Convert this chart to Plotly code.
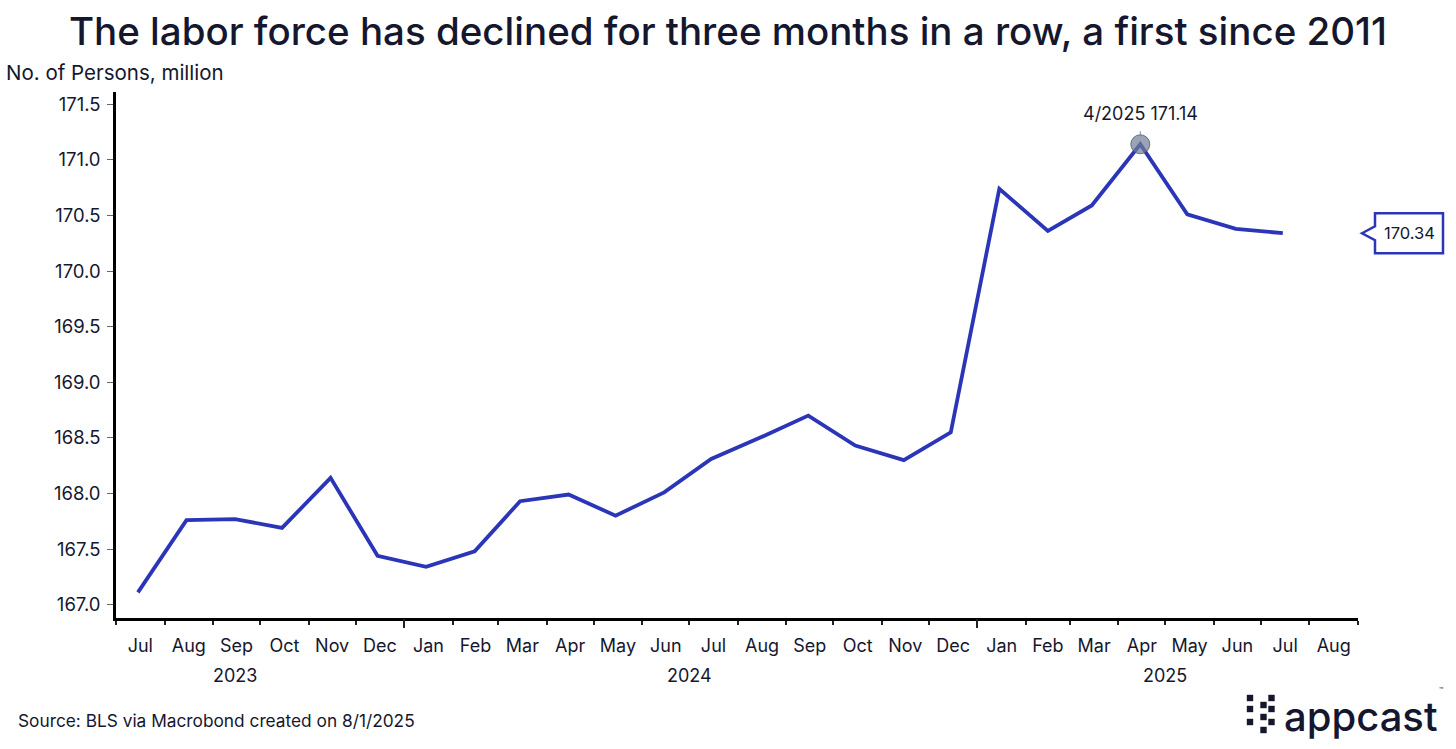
import plotly.graph_objects as go

# ---------------- data ----------------
months = ["2023-07-15", "2023-08-15", "2023-09-15", "2023-10-15", "2023-11-15", "2023-12-15",
          "2024-01-15", "2024-02-15", "2024-03-15", "2024-04-15", "2024-05-15", "2024-06-15",
          "2024-07-15", "2024-08-15", "2024-09-15", "2024-10-15", "2024-11-15", "2024-12-15",
          "2025-01-15", "2025-02-15", "2025-03-15", "2025-04-15", "2025-05-15", "2025-06-15",
          "2025-07-15"]
labor_force = [167.11, 167.76, 167.77, 167.69, 168.14, 167.44,
               167.34, 167.48, 167.93, 167.99, 167.80, 168.01,
               168.31, 168.50, 168.70, 168.43, 168.30, 168.55,
               170.74, 170.36, 170.59, 171.14, 170.51, 170.38,
               170.34]
y_ticks = [167.0, 167.5, 168.0, 168.5, 169.0, 169.5, 170.0, 170.5, 171.0, 171.5]
year_labels = ["2023", "2024", "2025"]
year_label_pos = ["2023-09-15", "2024-07-01", "2025-05-01"]
year_bounds = ["2024-01-01", "2025-01-01"]

TITLE = "The labor force has declined for three months in a row, a first since 2011"
SOURCE = "Source: BLS via Macrobond created on 8/1/2025"

# ---------------- style ----------------
FONT = "Inter"
INK = "#15172e"
BLUE = "#2b35b8"
W, H = 1456, 749
L, R, T, B = 116, 1358, 92, 618


def px(x):
    return (x - L) / (R - L)


def py(y):
    return (B - y) / (B - T)


fig = go.Figure()
fig.add_trace(go.Scatter(x=months, y=labor_force, mode="lines",
                         line=dict(color=BLUE, width=3.8), hoverinfo="skip",
                         showlegend=False, cliponaxis=False))

# peak marker
imax = max(range(len(labor_force)), key=lambda i: labor_force[i])
fig.add_trace(go.Scatter(x=[months[imax]], y=[labor_force[imax]], mode="markers",
                         marker=dict(size=19, color="rgba(112,126,150,0.7)",
                                     line=dict(color="rgba(80,90,110,0.8)", width=1)),
                         showlegend=False, hoverinfo="skip", cliponaxis=False))

# invisible trace for the overlay axis with year-boundary ticks
fig.add_trace(go.Scatter(x=year_bounds, y=[labor_force[0]] * len(year_bounds), mode="markers",
                         marker=dict(opacity=0), xaxis="x2", showlegend=False, hoverinfo="skip"))

xrange = ["2023-07-01", "2025-09-01"]
yrange = [166.88, 171.61]

fig.update_layout(
    width=W, height=H,
    margin=dict(l=L, r=W - R, t=T, b=H - B),
    paper_bgcolor="white", plot_bgcolor="white",
    font=dict(family=FONT, color=INK, size=18),
    title=dict(text=TITLE, x=0.5, xanchor="center", xref="container",
               y=1 - 32 / H, yanchor="middle", yref="container",
               font=dict(family=FONT, size=38.5, color=INK, weight=500)),
    xaxis=dict(type="date", range=xrange, dtick="M1", tick0="2023-07-01",
               tickformat="%b", ticklabelmode="period",
               ticks="outside", ticklen=4, tickwidth=1.5, tickcolor="#222",
               showline=True, linewidth=2.5, linecolor="black",
               showgrid=False, zeroline=False, ticklabelstandoff=6,
               tickfont=dict(family=FONT, size=18, color=INK)),
    xaxis2=dict(type="date", range=xrange, overlaying="x", side="bottom",
                tickvals=year_bounds, showticklabels=False,
                ticks="outside", ticklen=9, tickwidth=1.5, tickcolor="#222",
                showline=False, showgrid=False, zeroline=False),
    yaxis=dict(range=yrange, tickvals=y_ticks, tickformat=".1f",
               ticks="outside", ticklen=6, tickwidth=1, tickcolor="#666",
               showline=True, linewidth=2.5, linecolor="black",
               showgrid=False, zeroline=False, ticklabelstandoff=3,
               tickfont=dict(family=FONT, size=18.5, color=INK)),
)

ann = []
# y-axis title
ann.append(dict(text="No. of Persons, million", xref="paper", yref="paper",
                x=px(4), y=py(73), xanchor="left", yanchor="middle", showarrow=False,
                font=dict(family=FONT, size=20.5, color=INK)))
# year labels
for lab, pos in zip(year_labels, year_label_pos):
    ann.append(dict(text=lab, xref="x", yref="paper", x=pos, y=py(675),
                    xanchor="center", yanchor="middle", showarrow=False,
                    font=dict(family=FONT, size=18, color=INK)))
# peak annotation
peak_date = months[imax]
ann.append(dict(text=f"{int(peak_date[5:7])}/{peak_date[:4]} {labor_force[imax]:.2f}",
                xref="x", yref="y", x=peak_date, y=labor_force[imax],
                showarrow=True, ax=0, ay=-31, arrowhead=0, arrowwidth=1,
                arrowcolor="#888", standoff=9, startstandoff=6,
                font=dict(family=FONT, size=18, color=INK)))
# end-value label text
last = labor_force[-1]
ann.append(dict(text=f"{last:.2f}", xref="paper", yref="y", x=px(1409), y=last,
                xanchor="center", yanchor="middle", showarrow=False,
                font=dict(family=FONT, size=16.5, color=INK)))
# source
ann.append(dict(text=SOURCE, xref="paper", yref="paper", x=px(16), y=py(720),
                xanchor="left", yanchor="middle", showarrow=False,
                font=dict(family=FONT, size=17.3, color=INK)))
# logo text
ann.append(dict(text="appcast", xref="paper", yref="paper", x=px(1282), y=py(716),
                xanchor="left", yanchor="middle", showarrow=False,
                font=dict(family=FONT, size=40, color=INK, weight=500)))
ann.append(dict(text="™", xref="paper", yref="paper", x=px(1437), y=py(690),
                xanchor="left", yanchor="middle", showarrow=False,
                font=dict(family=FONT, size=7, color=INK)))
fig.update_layout(annotations=ann)

shapes = []
# end label callout box (paper x, data y)
upp = (yrange[1] - yrange[0]) / (B - T)  # data units per pixel
hh, nh = 20 * upp, 7 * upp
xt, xl, xr = px(1362), px(1375), px(1443)
path = (f"M {xt},{last} L {xl},{last + nh} L {xl},{last + hh} L {xr},{last + hh} "
        f"L {xr},{last - hh} L {xl},{last - hh} L {xl},{last - nh} Z")
shapes.append(dict(type="path", path=path, xref="paper", yref="y",
                   line=dict(color=BLUE, width=2.5), fillcolor="white", layer="below"))
# logo squares
sq = 3.2
for cx, cy in [(1250, 698), (1250, 709), (1250, 722),
               (1263.5, 705), (1263.5, 717), (1263.5, 730),
               (1271.5, 698), (1271.5, 709), (1271.5, 722)]:
    shapes.append(dict(type="rect", xref="paper", yref="paper",
                       x0=px(cx - sq), x1=px(cx + sq), y0=py(cy + sq), y1=py(cy - sq),
                       fillcolor=INK, line=dict(width=0)))
fig.update_layout(shapes=shapes)

fig.write_html("out.html", config={"displayModeBar": False},
               post_script="document.body.style.margin='0';")
